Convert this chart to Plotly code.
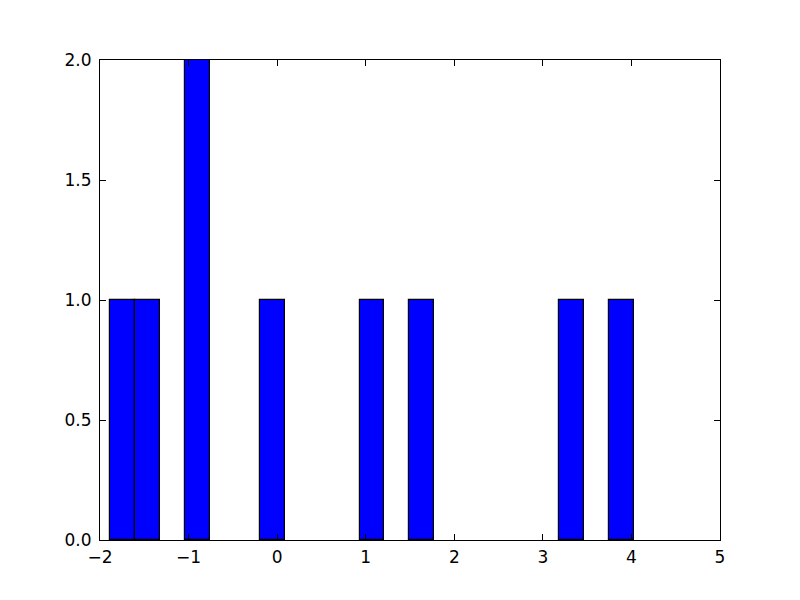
import plotly.graph_objects as go

# raw sample values (estimated from the histogram)
samples = [-1.885, -1.45, -0.92, -0.88, -0.05, 1.07, 1.63, 3.32, 4.0]
bin_start = -1.887
bin_end = 4.029
n_bins = 21

x_ticks = [-2, -1, 0, 1, 2, 3, 4, 5]
y_ticks = [0.0, 0.5, 1.0, 1.5, 2.0]

fig = go.Figure(
    go.Histogram(
        x=samples,
        xbins=dict(start=bin_start, end=bin_end + 1e-6, size=(bin_end - bin_start) / n_bins),
        marker=dict(color="#0000ff", line=dict(color="black", width=1.2)),
        autobinx=False,
    )
)

axis_common = dict(
    showgrid=False,
    zeroline=False,
    showline=True,
    linecolor="black",
    linewidth=1,
    mirror="ticks",
    ticks="inside",
    ticklen=6,
    tickcolor="black",
    tickfont=dict(family="DejaVu Sans", size=17, color="black"),
)

fig.update_layout(
    width=800,
    height=600,
    paper_bgcolor="white",
    plot_bgcolor="white",
    margin=dict(l=92, r=88, t=52, b=68),
    bargap=0,
    showlegend=False,
    xaxis=dict(range=[-2, 5], tickvals=x_ticks, ticklabelstandoff=2, **axis_common),
    yaxis=dict(range=[0, 2], tickvals=y_ticks, tickformat=".1f", ticklabelstandoff=4, **axis_common),
)

fig.write_html("out.html")
